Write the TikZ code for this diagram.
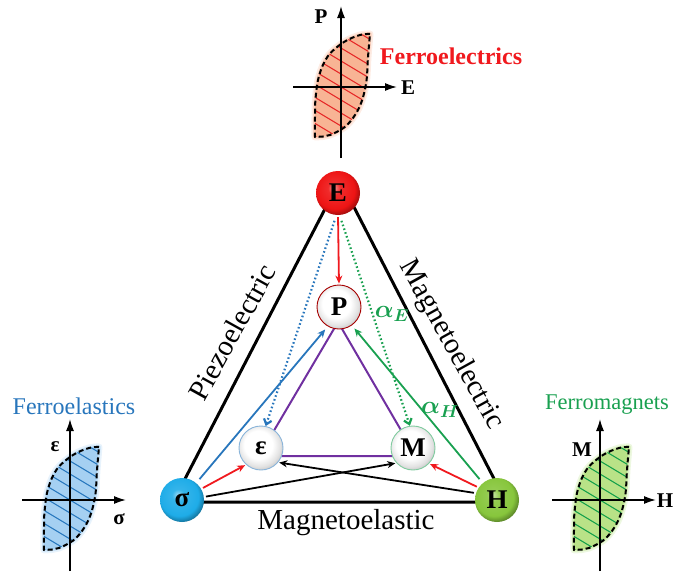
\documentclass[tikz,border=0pt]{standalone}
\usepackage{fontspec}
\setmainfont{Liberation Serif}
\usetikzlibrary{arrows.meta}
\definecolor{cred}{RGB}{240,25,30}
\definecolor{cblue}{RGB}{40,118,188}
\definecolor{cgreen}{RGB}{25,160,80}
\definecolor{cpurple}{RGB}{112,48,160}
\definecolor{eball}{RGB}{238,20,20}
\definecolor{sball}{RGB}{30,172,232}
\definecolor{hball}{RGB}{135,198,60}
\definecolor{fillor}{RGB}{248,180,148}
\definecolor{hatchor}{RGB}{230,40,40}
\definecolor{fillbl}{RGB}{165,208,242}
\definecolor{hatchbl}{RGB}{40,120,190}
\definecolor{fillgr}{RGB}{185,226,135}
\definecolor{hatchgr}{RGB}{20,160,75}
\pgfdeclareradialshading{redball}{\pgfpoint{-5bp}{6bp}}{color(0bp)=(eball!45!white); color(7bp)=(eball!90!white); color(22bp)=(eball); color(28bp)=(eball!70!black); color(31bp)=(eball!50!black); color(60bp)=(eball!50!black)}
\pgfdeclareradialshading{blueball}{\pgfpoint{-5bp}{6bp}}{color(0bp)=(sball!45!white); color(7bp)=(sball!90!white); color(22bp)=(sball); color(28bp)=(sball!70!black); color(31bp)=(sball!50!black); color(60bp)=(sball!50!black)}
\pgfdeclareradialshading{greenball}{\pgfpoint{-5bp}{6bp}}{color(0bp)=(hball!45!white); color(7bp)=(hball!90!white); color(22bp)=(hball); color(28bp)=(hball!70!black); color(31bp)=(hball!50!black); color(60bp)=(hball!50!black)}
\pgfdeclareradialshading{whiteball}{\pgfpoint{-4bp}{5bp}}{color(0bp)=(white); color(16bp)=(white); color(24bp)=(gray!22); color(30bp)=(gray!50); color(60bp)=(gray!50)}
\def\hystpath{plot[smooth,tension=0.6] coordinates {(29,-53) (19,-52) (3,-45) (-13,-31) (-22,-11) (-25.5,12) (-26,30) (-26,50)} -- (-18,49.5) -- plot[smooth,tension=0.6] coordinates {(-11,48) (5,39) (18,21) (25,-3) (27,-30) (29,-53)} -- cycle}
\newcommand\hystloop[4]{%
\begin{scope}[shift={(#1,#2)}]
\draw[#3, line width=7pt, opacity=0.25, line join=round] \hystpath;
\draw[#3, line width=3.5pt, opacity=0.5, line join=round] \hystpath;
\fill[#3] \hystpath;
\begin{scope}
\clip \hystpath;
\foreach \c in {-104,-91,...,104} \draw[#4, line width=1.1pt] (-45,\c-27) -- (45,\c+27);
\end{scope}
\draw[axis] (0,71) -- (0,-81);
\draw[axis] (-48,0) -- (56,0);
\draw[loopline] \hystpath;
\end{scope}}
\begin{document}
\begin{tikzpicture}[x=1pt,y=-1pt,
  axis/.style={line width=1.6pt, -{Latex[length=12pt,width=8pt]}},
  loopline/.style={line width=2pt, dash pattern=on 5pt off 3pt, line join=round},
  outer/.style={line width=3pt, line join=round},
  innertri/.style={line width=2pt, cpurple, line join=round},
  bigball/.style={circle, minimum size=44pt, inner sep=0pt, shading=#1, font=\fontsize{27}{27}\selectfont\bfseries},
  smallball/.style={circle, minimum size=44pt, inner sep=0pt, draw=#1, line width=0.9pt, shading=whiteball, font=\fontsize{27}{27}\selectfont\bfseries},
  arr/.style={line width=1.8pt, #1, -{Stealth[length=8pt,width=7pt]}, shorten <=2pt, shorten >=1pt},
  dotarr/.style={line width=2.2pt, #1, dash pattern=on 1.6pt off 2.4pt, -{Straight Barb[length=5pt,width=8pt]}},
  lab/.style={font=\fontsize{29}{30}\selectfont, inner sep=0pt},
  axlab/.style={font=\fontsize{21}{21}\selectfont\bfseries, inner sep=0pt},
  alab/.style={text=cgreen, font=\fontsize{27}{27}\selectfont\boldmath, inner sep=0pt}]
\useasboundingbox (0,0) rectangle (678,573);

% hysteresis loops
\hystloop{341}{87}{fillor}{hatchor}
\hystloop{70}{500}{fillbl}{hatchbl}
\hystloop{600}{500}{fillgr}{hatchgr}

\node[axlab] (lP) at (321,17) {P};
\node[axlab] (lE) at (408,88) {E};
\node[font=\fontsize{24}{24}\selectfont\bfseries, text=cred, inner sep=0pt] (tFE) at (451,56) {Ferroelectrics};
\node[axlab] (leps) at (55,447) {ε};
\node[axlab] (lsig) at (119,519) {σ};
\node[font=\fontsize{24}{24}\selectfont, text=cblue, inner sep=0pt] (tFEl) at (74,406) {Ferroelastics};
\node[axlab] (lM) at (582,450) {M};
\node[axlab] (lH) at (665,501) {H};
\node[font=\fontsize{22.5}{23}\selectfont, text=cgreen, inner sep=0pt] (tFM) at (607,405) {Ferromagnets};

% triangles
\coordinate (tA) at (340,180);
\coordinate (tB) at (173,502);
\coordinate (tC) at (506,502);
\draw[outer] (tA) -- (tB) -- (tC) -- cycle;
\coordinate (pA) at (338,322);
\coordinate (pB) at (259,456);
\coordinate (pC) at (416,456);
\draw[innertri] (pA) -- (pB) -- (pC) -- cycle;

% side labels
\node[lab, rotate=61] (piezo) at (232,332) {Piezoelectric};
\node[lab, rotate=-61] (mel) at (451,345) {Magnetoelectric};
\node[lab] (mea) at (346,523) {Magnetoelastic};

% balls
\node[bigball=redball] (E) at (338,193) {E};
\node[bigball=blueball] (S) at (182,500) {σ};
\node[bigball=greenball] (H) at (497,500) {H};
\node[smallball=red!65!black] (P) at (339,307) {P};
\node[smallball=cblue!55] (Ep) at (261,448) {ε};
\node[smallball=cgreen!55] (M) at (413,448) {M};

% arrows
\draw[arr=cred] (E.south) -- (P.north);
\draw[dotarr=cblue, shorten <=6pt] (E.266) -- (Ep.78);
\draw[dotarr=cgreen, shorten <=6pt] (E.274) -- (M.98);
\draw[arr=cblue, shorten <=5pt, shorten >=4pt] (S.50) -- (P.240);
\draw[arr=cgreen, shorten <=5pt, shorten >=4pt] (H.130) -- (P.305);
\draw[arr=cred] (S.30) -- (Ep.228);
\draw[arr=cred] (H.146) -- (M.316);
\draw[arr=black] (S.8) -- (M.222);
\draw[arr=black] (H.162) -- (Ep.320);

\node[alab] (aE) at (392,314) {$\alpha_E$};
\node[alab] (aH) at (440,410) {$\alpha_H$};
\end{tikzpicture}
\end{document}
